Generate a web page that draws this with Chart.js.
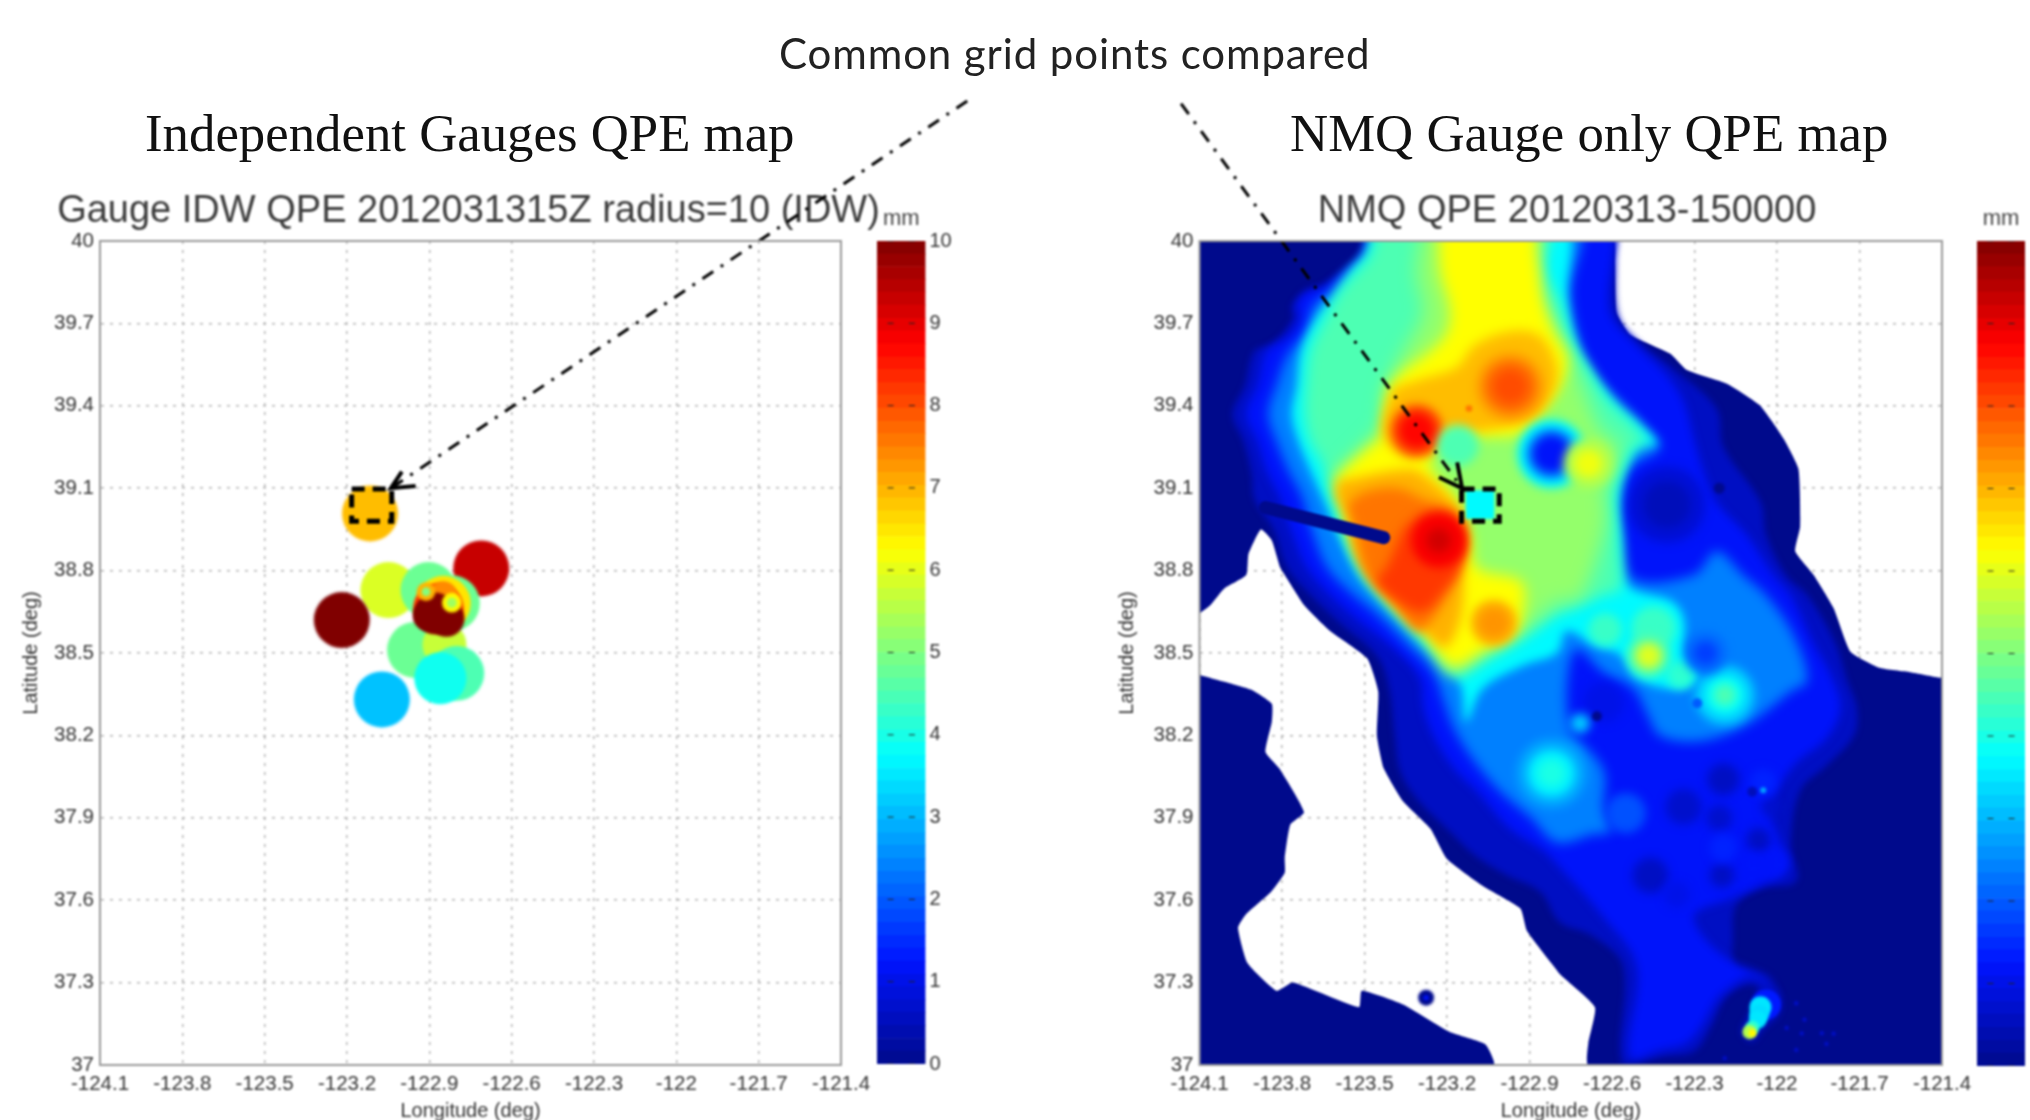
<!DOCTYPE html>
<html>
<head>
<meta charset="utf-8">
<title>QPE maps</title>
<script src="https://cdn.jsdelivr.net/npm/chart.js@4/dist/chart.umd.min.js"></script>
<style>
  html, body { margin: 0; padding: 0; background: #fff; overflow: hidden; }
  #page { position: relative; width: 2030px; height: 1120px; overflow: hidden; }
  .box { position: absolute; }
  .box canvas { filter: blur(0.8px); }
  .note { position: absolute; white-space: nowrap; filter: blur(0.6px); }
  .serif { font-family: "Liberation Serif", serif; color: #111; font-size: 52.8px; }
</style>
</head>
<body>
<div id="page">
  <div class="note" style="left:779px;top:28px;font:42px Lato,sans-serif;letter-spacing:.9px;color:#222">Common grid points compared</div>
  <div class="note serif" style="left:145px;top:103px">Independent Gauges QPE map</div>
  <div class="note serif" style="left:1290px;top:103px">NMQ Gauge only QPE map</div>
  <div class="box" style="left:865px;top:206px;width:100px;height:874px"><canvas id="bar-left"></canvas></div>
  <div class="box" style="left:1965px;top:206px;width:65px;height:874px"><canvas id="bar-right"></canvas></div>
  <div class="box" style="left:0;top:0;width:1015px;height:1123px"><canvas id="map-left"></canvas></div>
  <div class="box" style="left:1015px;top:0;width:1015px;height:1123px"><canvas id="map-right"></canvas></div>
</div>
<script>
const lonTicks = [-124.1, -123.8, -123.5, -123.2, -122.9, -122.6, -122.3, -122, -121.7, -121.4];
const latTicks = [37, 37.3, 37.6, 37.9, 38.2, 38.5, 38.8, 39.1, 39.4, 39.7, 40];
const barTicks = [0, 1, 2, 3, 4, 5, 6, 7, 8, 9, 10];
const barEdges = [0, .16, .31, .47, .63, .78, .94, 1.09, 1.25, 1.41, 1.56, 1.72, 1.88, 2.03, 2.19, 2.34, 2.5, 2.66, 2.81, 2.97, 3.13, 3.28, 3.44, 3.59, 3.75, 3.91, 4.06, 4.22, 4.38, 4.53, 4.69, 4.84, 5, 5.16, 5.31, 5.47, 5.63, 5.78, 5.94, 6.09, 6.25, 6.41, 6.56, 6.72, 6.88, 7.03, 7.19, 7.34, 7.5, 7.66, 7.81, 7.97, 8.13, 8.28, 8.44, 8.59, 8.75, 8.91, 9.06, 9.22, 9.38, 9.53, 9.69, 9.84, 10];

// left map, one row per gauge circle, drawn in this order (hot cluster last)
const gaugeLon = [-123.116, -122.711, -123.049, -123.219, -122.952, -122.845, -122.80, -122.86, -123.073, -122.903, -122.818, -122.849, -122.867, -122.849, -122.879, -122.838, -122.905, -122.912, -122.912, -122.818, -122.818];
const gaugeLat = [39.008, 38.808, 38.729, 38.62, 38.511, 38.53, 38.426, 38.408, 38.331, 38.729, 38.681, 38.681, 38.663, 38.711, 38.644, 38.625, 38.635, 38.723, 38.723, 38.683, 38.683];
const gaugeMm = [6.9, 9.3, 5.9, 10, 4.8, 5.7, 4.5, 3.9, 3.1, 4.8, 4.8, 6.5, 8.2, 7.4, 10, 10, 10, 7, 5, 6.3, 5.3];
const gaugeDeg = [.102, .102, .102, .102, .102, .08, .1, .095, .102, .102, .102, .1, .092, .05, .076, .066, .055, .034, .016, .036, .018];

// right map, coast outline of the gridded area
const coastNorth = [[-124.1, 40], [-122.595, 40], [-122.589, 39.92], [-122.583, 39.74], [-122.534, 39.66], [-122.389, 39.59], [-122.328, 39.53], [-122.182, 39.48], [-122.061, 39.40], [-121.976, 39.28], [-121.922, 39.17], [-121.916, 38.96], [-121.934, 38.87], [-121.867, 38.784], [-121.794, 38.663], [-121.733, 38.505], [-121.624, 38.445], [-121.515, 38.43], [-121.41, 38.41], [-121.4, 38.41], [-121.4, 37], [-122.686, 37], [-122.686, 37.08], [-122.662, 37.21], [-122.789, 37.33], [-122.82, 37.37], [-122.91, 37.49], [-122.933, 37.57], [-123.067, 37.65], [-123.2, 37.75], [-123.26, 37.86], [-123.36, 37.96], [-123.43, 38.08], [-123.455, 38.2], [-123.45, 38.36], [-123.49, 38.48], [-123.625, 38.58], [-123.72, 38.675], [-123.79, 38.784], [-123.806, 38.81], [-123.837, 38.91], [-123.877, 38.95], [-123.922, 38.86], [-123.93, 38.784], [-124.01, 38.735], [-124.06, 38.675], [-124.105, 38.64], [-124.1, 38.64]];
const coastSouth = [[-124.1, 38.42], [-124.01, 38.395], [-123.91, 38.365], [-123.837, 38.315], [-123.837, 38.25], [-123.86, 38.14], [-123.81, 38.08], [-123.72, 37.92], [-123.77, 37.875], [-123.79, 37.755], [-123.79, 37.70], [-123.84, 37.63], [-123.93, 37.55], [-123.96, 37.50], [-123.925, 37.37], [-123.82, 37.27], [-123.76, 37.30], [-123.52, 37.21], [-123.51, 37.27], [-123.36, 37.22], [-123.19, 37.12], [-123.06, 37.075], [-123.03, 37], [-124.1, 37]];
const stripLine = [[-123.86, 39.03], [-123.43, 38.92]];

// right map, filled contours, outer to inner
const band06 = [[-123.50, 40.06], [-123.50, 39.99], [-123.54, 39.925], [-123.65, 39.84], [-123.72, 39.81], [-123.765, 39.76], [-123.76, 39.72], [-123.83, 39.63], [-123.90, 39.60], [-123.935, 39.475], [-123.98, 39.37], [-123.94, 39.27], [-123.91, 39.15], [-123.90, 39.06], [-123.83, 38.95], [-123.78, 38.81], [-123.685, 38.70], [-123.59, 38.61], [-123.455, 38.49], [-123.41, 38.37], [-123.39, 38.20], [-123.37, 38.07], [-123.31, 37.97], [-123.20, 37.86], [-123.10, 37.765], [-122.98, 37.69], [-122.86, 37.63], [-122.79, 37.52], [-122.67, 37.47], [-122.56, 37.36], [-122.56, 37], [-122.415, 37.03], [-122.30, 37.05], [-122.24, 37.14], [-122.19, 37.24], [-122.12, 37.29], [-122.07, 37.285], [-122.10, 37.19], [-122.13, 37.12], [-122.09, 37.085], [-122.05, 37.13], [-121.99, 37.19], [-121.99, 37.26], [-122.05, 37.32], [-122.15, 37.35], [-122.16, 37.47], [-122.15, 37.58], [-122.07, 37.64], [-121.93, 37.67], [-121.95, 37.81], [-121.915, 38.0], [-121.82, 38.09], [-121.72, 38.20], [-121.71, 38.30], [-121.745, 38.40], [-121.79, 38.54], [-121.89, 38.71], [-121.965, 38.78], [-122.04, 38.93], [-122.06, 39.05], [-122.195, 39.25], [-122.22, 39.39], [-122.365, 39.525], [-122.535, 39.66], [-122.58, 39.74], [-122.59, 39.925], [-122.60, 40.06]];
const band13 = [[-123.485, 40.06], [-123.515, 39.94], [-123.60, 39.865], [-123.65, 39.83], [-123.71, 39.815], [-123.745, 39.77], [-123.735, 39.72], [-123.78, 39.65], [-123.855, 39.60], [-123.89, 39.475], [-123.93, 39.37], [-123.89, 39.27], [-123.855, 39.16], [-123.805, 39.06], [-123.76, 38.93], [-123.71, 38.81], [-123.625, 38.71], [-123.53, 38.625], [-123.395, 38.517], [-123.30, 38.41], [-123.285, 38.30], [-123.25, 38.20], [-123.175, 38.08], [-123.09, 37.995], [-122.97, 37.86], [-122.85, 37.78], [-122.79, 37.72], [-122.64, 37.55], [-122.51, 37.36], [-122.535, 37.03], [-122.425, 37.055], [-122.33, 37.08], [-122.27, 37.15], [-122.22, 37.24], [-122.17, 37.285], [-122.10, 37.32], [-122.01, 37.285], [-122.0, 37.225], [-122.025, 37.31], [-122.17, 37.38], [-122.27, 37.47], [-122.30, 37.55], [-122.16, 37.61], [-121.965, 37.72], [-122.0, 37.84], [-122.025, 37.935], [-121.94, 38.09], [-121.82, 38.19], [-121.77, 38.30], [-121.805, 38.42], [-121.87, 38.54], [-121.95, 38.71], [-122.01, 38.78], [-122.11, 38.93], [-122.22, 39.05], [-122.27, 39.17], [-122.30, 39.27], [-122.34, 39.415], [-122.40, 39.51], [-122.51, 39.62], [-122.607, 39.74], [-122.63, 40.06]];
const band24 = [[-123.48, 40.06], [-123.50, 39.95], [-123.565, 39.89], [-123.625, 39.815], [-123.685, 39.765], [-123.715, 39.67], [-123.78, 39.585], [-123.82, 39.475], [-123.85, 39.37], [-123.82, 39.27], [-123.775, 39.16], [-123.73, 39.075], [-123.685, 38.93], [-123.635, 38.81], [-123.55, 38.72], [-123.455, 38.64], [-123.345, 38.53], [-123.25, 38.43], [-123.21, 38.32], [-123.175, 38.225], [-123.10, 38.105], [-123.005, 37.995], [-122.895, 37.90], [-122.80, 37.81], [-122.668, 37.84], [-122.607, 37.85], [-122.63, 37.935], [-122.63, 38.07], [-122.716, 38.18], [-122.75, 38.21], [-122.765, 38.37], [-122.73, 38.515], [-122.63, 38.43], [-122.52, 38.37], [-122.47, 38.275], [-122.425, 38.20], [-122.28, 38.18], [-122.11, 38.24], [-121.95, 38.36], [-121.89, 38.40], [-121.94, 38.565], [-122.04, 38.71], [-122.12, 38.78], [-122.22, 38.87], [-122.30, 38.785], [-122.52, 38.77], [-122.56, 38.93], [-122.56, 39.05], [-122.535, 39.17], [-122.425, 39.25], [-122.485, 39.33], [-122.607, 39.45], [-122.68, 39.54], [-122.73, 39.68], [-122.75, 39.82], [-122.73, 40.06]];
const band37 = [[-123.47, 40.06], [-123.49, 39.96], [-123.54, 39.90], [-123.61, 39.80], [-123.68, 39.71], [-123.73, 39.60], [-123.745, 39.475], [-123.765, 39.37], [-123.74, 39.27], [-123.70, 39.17], [-123.65, 39.06], [-123.595, 38.93], [-123.54, 38.81], [-123.50, 38.75], [-123.405, 38.65], [-123.31, 38.55], [-123.21, 38.46], [-123.15, 38.38], [-123.13, 38.25], [-123.07, 38.37], [-122.92, 38.455], [-122.80, 38.50], [-122.765, 38.58], [-122.668, 38.53], [-122.57, 38.493], [-122.51, 38.41], [-122.365, 38.37], [-122.28, 38.42], [-122.33, 38.505], [-122.34, 38.63], [-122.38, 38.687], [-122.546, 38.75], [-122.57, 38.93], [-122.58, 39.05], [-122.56, 39.15], [-122.50, 39.25], [-122.437, 39.26], [-122.50, 39.33], [-122.58, 39.40], [-122.668, 39.51], [-122.73, 39.62], [-122.765, 39.78], [-122.78, 40.06]];
const band45 = [[-123.455, 40.06], [-123.48, 39.95], [-123.53, 39.89], [-123.59, 39.82], [-123.65, 39.71], [-123.70, 39.60], [-123.715, 39.475], [-123.72, 39.37], [-123.70, 39.27], [-123.66, 39.20], [-123.63, 39.12], [-123.60, 39.05], [-123.565, 38.93], [-123.50, 38.80], [-123.43, 38.71], [-123.335, 38.61], [-123.25, 38.515], [-123.175, 38.42], [-123.04, 38.48], [-122.92, 38.55], [-122.82, 38.63], [-122.75, 38.66], [-122.63, 38.71], [-122.57, 38.735], [-122.58, 38.93], [-122.595, 39.05], [-122.575, 39.15], [-122.52, 39.25], [-122.47, 39.26], [-122.53, 39.34], [-122.62, 39.43], [-122.69, 39.54], [-122.75, 39.63], [-122.79, 39.78], [-122.85, 39.90], [-122.83, 40.06]];
const band53 = [[-123.285, 40.06], [-123.31, 39.88], [-123.285, 39.74], [-123.345, 39.62], [-123.405, 39.51], [-123.43, 39.44], [-123.44, 39.33], [-123.49, 39.27], [-123.54, 39.22], [-123.61, 39.14], [-123.59, 39.05], [-123.54, 38.93], [-123.48, 38.80], [-123.405, 38.70], [-123.31, 38.60], [-123.24, 38.515], [-123.175, 38.43], [-123.07, 38.515], [-122.92, 38.60], [-122.87, 38.625], [-122.80, 38.686], [-122.716, 38.70], [-122.63, 38.93], [-122.62, 39.03], [-122.63, 39.08], [-122.58, 39.20], [-122.58, 39.27], [-122.64, 39.31], [-122.716, 39.49], [-122.75, 39.575], [-122.79, 39.66], [-122.86, 39.78], [-122.87, 39.925], [-122.90, 40.06]];
const band61 = [[-123.23, 40.06], [-123.225, 39.89], [-123.19, 39.755], [-123.20, 39.67], [-123.26, 39.60], [-123.36, 39.525], [-123.405, 39.475], [-123.42, 39.415], [-123.435, 39.295], [-123.50, 39.235], [-123.60, 39.135], [-123.59, 39.08], [-123.55, 38.93], [-123.48, 38.81], [-123.38, 38.675], [-123.285, 38.58], [-123.225, 38.49], [-123.175, 38.45], [-123.07, 38.505], [-122.945, 38.58], [-122.92, 38.66], [-122.93, 38.76], [-123.09, 38.81], [-123.115, 38.93], [-123.15, 39.0], [-123.17, 39.07], [-123.26, 39.18], [-123.20, 39.30], [-123.10, 39.29], [-122.92, 39.30], [-122.85, 39.39], [-122.80, 39.45], [-122.76, 39.57], [-122.81, 39.67], [-122.85, 39.79], [-122.87, 39.925], [-122.90, 40.06]];
const band69 = [[-123.395, 39.465], [-123.285, 39.50], [-123.165, 39.54], [-123.10, 39.62], [-122.98, 39.67], [-122.87, 39.66], [-122.81, 39.575], [-122.80, 39.49], [-122.85, 39.39], [-122.92, 39.34], [-123.10, 39.305], [-123.21, 39.305], [-123.26, 39.23], [-123.345, 39.21], [-123.42, 39.27], [-123.435, 39.34]];
const band70 = [[-123.60, 39.125], [-123.335, 39.17], [-123.26, 39.13], [-123.175, 39.05], [-123.13, 38.975], [-123.14, 38.81], [-123.14, 38.69], [-123.165, 38.58], [-123.21, 38.52], [-123.285, 38.58], [-123.38, 38.66], [-123.48, 38.77], [-123.54, 38.87], [-123.565, 39.01], [-123.60, 39.06]];
const band76 = [[-123.565, 39.04], [-123.50, 39.085], [-123.38, 39.10], [-123.285, 39.06], [-123.175, 39.01], [-123.135, 38.89], [-123.165, 38.81], [-123.19, 38.735], [-123.26, 38.615], [-123.31, 38.58], [-123.405, 38.70], [-123.49, 38.784], [-123.53, 38.93]];
const band82 = [[-123.36, 38.95], [-123.285, 39.01], [-123.19, 39.01], [-123.135, 38.93], [-123.155, 38.80], [-123.21, 38.725], [-123.285, 38.65], [-123.36, 38.675], [-123.455, 38.76], [-123.42, 38.81]];
const bandList = [band06, band13, band24, band37, band45, band53, band61, band69, band70, band76, band82];
const bandMm = [0.6, 1.2, 2.4, 3.7, 4.5, 5.2, 6.25, 6.9, 7.0, 7.6, 8.2];
const bandSoft = [3, 4, 6, 5, 7, 9, 7, 6, 6, 6, 6];

// right map, broad highs and lows on top of the contours
const blobLon = [-123.31, -123.31, -122.97, -122.97, -122.97, -123.16, -122.82, -122.82, -122.82, -122.686, -122.686, -122.40, -122.40, -123.03, -123.03, -123.23, -123.23, -122.449, -122.625, -122.35, -122.467, -122.467, -122.467, -122.19, -122.19, -122.19, -122.26, -122.26, -122.63, -122.716, -122.82, -122.82, -122.82, -122.55, -122.34, -122.195, -122.21, -122.025, -122.067, -122.46, -122.2, -122.05, -122.195, -122.01, -122.09, -122.365];
const blobLat = [39.31, 39.31, 39.47, 39.47, 39.47, 39.255, 39.225, 39.225, 39.225, 39.19, 39.19, 39.04, 39.04, 38.61, 38.61, 38.91, 38.91, 38.59, 38.585, 38.42, 38.49, 38.49, 38.49, 38.347, 38.347, 38.347, 38.50, 38.50, 38.32, 38.244, 38.062, 38.062, 38.062, 37.917, 37.94, 38.04, 37.90, 37.94, 37.82, 37.69, 37.69, 38.03, 37.79, 37.73, 37.73, 37.62];
const blobMm = [8.0, 8.7, 7.2, 7.7, 8.0, 4.5, 3.7, 2.6, 1.2, 5.5, 6.1, .8, .5, 7, 7.3, 8.8, 9.2, 4.3, 4.3, 4.2, 4.5, 5.5, 6, 3.2, 3.8, 4.5, 2.2, 1.7, 1, 3.2, 2.8, 3.6, 4, 1.9, .7, .6, .7, .7, .6, .6, .6, 1.4, 1.4, 1.2, 1.2, 1];
const blobDeg = [.095, .065, .125, .095, .06, .075, .125, .095, .07, .09, .05, .14, .085, .085, .055, .1, .045, .08, .06, .05, .08, .05, .032, .11, .073, .04, .08, .044, .073, .036, .127, .087, .05, .073, .065, .058, .047, .033, .044, .065, .044, .047, .05, .047, .04, .047];

// right map, small sharp marks: single grid cells, the south bay tail, the island
const dotLon = [-123.12, -122.21, -122.655, -122.29, -122.09, -122.05, -122.04, -122.06, -122.065, -122.07, -122.09, -122.10, -122.09, -121.93, -121.90, -121.965, -121.91, -121.837, -121.794, -121.82, -121.93, -122.19, -123.276, -123.276];
const dotLat = [39.39, 39.10, 38.27, 38.317, 37.995, 38.0, 37.22, 37.21, 37.185, 37.165, 37.135, 37.12, 37.116, 37.225, 37.165, 37.135, 37.115, 37.116, 37.114, 37.077, 37.055, 37.025, 37.245, 37.245];
const dotMm = [7.6, 0, 0, 2, .5, 2.8, 1.3, 3.5, 3.4, 3.5, 4.2, 5.5, 6.3, .9, .9, .9, .9, .9, .9, .9, .9, .9, 0, 1.2];
const dotDeg = [.012, .02, .018, .018, .018, .011, .055, .04, .036, .032, .026, .026, .014, .007, .007, .007, .007, .007, .007, .007, .007, .007, .029, .01];

// cyan gauge cell inside the dashed box
const cellLon = [-123.08];
const cellLat = [39.04];
const cellMm = [3.7];
const cellDeg = [.073];

// annotation lines in map coordinates
const leftArrow = [[-120.94, 40.51], [-123.04, 39.10]];
const leftHead = [[-123.0, 39.16], [-123.04, 39.10], [-122.95, 39.108]];
const leftBox = [[-123.183, 39.097], [-123.037, 39.097], [-123.037, 38.98], [-123.183, 38.98], [-123.183, 39.097]];
const rightArrow = [[-124.167, 40.50], [-123.145, 39.10]];
const rightHead = [[-123.163, 39.194], [-123.145, 39.10], [-123.229, 39.14]];
const rightBox = [[-123.147, 39.097], [-123.01, 39.097], [-123.01, 38.98], [-123.147, 38.98], [-123.147, 39.097]];

const jetPos = [0, .125, .375, .625, .875, 1];
const jetRgb = [[0, 10, 140], [0, 20, 255], [0, 255, 255], [255, 255, 0], [255, 0, 0], [128, 0, 0]];

function jet(mm) {
    let t = Math.min(1, Math.max(0, mm / 10));
    let i = 0;
    while (i < jetPos.length - 2 && t > jetPos[i + 1]) i++;
    let f = (t - jetPos[i]) / (jetPos[i + 1] - jetPos[i]);
    let c = jetRgb[i].map((v, k) => Math.round(v + (jetRgb[i + 1][k] - v) * f));
    return `rgb(${c[0]},${c[1]},${c[2]})`;
}

function toPoints(pairs) {
    return pairs.map(p => ({x: p[0], y: p[1]}));
}

function degToPx(chart, deg) {
    let s = chart.scales.x;
    return deg * s.width / (s.max - s.min);
}

function area(pairs, color, blur, tension) {
    return {
        data: toPoints(pairs.concat([pairs[0]])),
        showLine: true, fill: 'shape', backgroundColor: color,
        borderWidth: 0, pointRadius: 0, tension: tension, blur: blur
    };
}

function spots(lons, lats, mms, degs, blur, style) {
    return {
        data: lons.map((x, i) => ({x: x, y: lats[i]})),
        showLine: false, pointStyle: style || 'circle',
        pointBackgroundColor: mms.map(jet), pointBorderWidth: 0,
        pointRadius: c => degToPx(c.chart, degs[c.dataIndex]),
        blur: blur
    };
}

function stroke(pairs, width, dash) {
    return {
        data: toPoints(pairs), showLine: true, fill: false, clip: false,
        borderColor: '#000', borderWidth: width, borderDash: dash || [],
        pointRadius: 0, tension: 0
    };
}

// filler runs its hook before ours, so the filter for a dataset is set when the previous one ends
const softBands = {
    id: 'softBands',
    setFilter(chart, meta) {
        let blur = meta ? chart.data.datasets[meta.index].blur : 0;
        chart.ctx.filter = blur ? `blur(${blur}px)` : 'none';
    },
    beforeDatasetsDraw(chart) {
        let metas = chart.getSortedVisibleDatasetMetas();
        this.setFilter(chart, metas[metas.length - 1]);
    },
    afterDatasetDraw(chart, args) {
        let metas = chart.getSortedVisibleDatasetMetas();
        let pos = metas.findIndex(m => m.index === args.index);
        this.setFilter(chart, metas[pos - 1]);
    },
    afterDatasetsDraw(chart) {
        chart.ctx.filter = 'none';
    }
};

const frame = {
    id: 'frame',
    afterDatasetsDraw(chart) {
        let a = chart.chartArea, ctx = chart.ctx;
        ctx.save();
        ctx.strokeStyle = '#999';
        ctx.lineWidth = 2;
        ctx.strokeRect(a.left, a.top, a.right - a.left, a.bottom - a.top);
        ctx.restore();
    }
};

function makeMap(id, title, sets, pad, axisWidth) {
    sets.forEach((d, i) => { d.type = 'scatter'; d.order = sets.length - i; });
    new Chart(document.getElementById(id), {
        type: 'scatter',
        data: {datasets: sets},
        plugins: [softBands, frame],
        options: {
            responsive: true, maintainAspectRatio: false, animation: false,
            layout: {padding: pad},
            plugins: {
                legend: {display: false}, tooltip: {enabled: false},
                filler: {drawTime: 'beforeDatasetDraw'},
                title: {
                    display: true, text: title, color: '#3c3c3c',
                    font: {family: 'Liberation Sans', size: 38, weight: 'normal'},
                    padding: {top: 188.4, bottom: 7}
                }
            },
            scales: {
                x: {
                    type: 'linear', min: -124.1, max: -121.4,
                    afterBuildTicks: s => { s.ticks = lonTicks.map(v => ({value: v})); },
                    afterFit: s => { s.height = 58; },
                    ticks: {color: '#333', font: {family: 'Liberation Sans', size: 20.5}, padding: 7, maxRotation: 0, autoSkip: false, callback: v => String(v)},
                    grid: {color: '#b4b4b4', lineWidth: 1.5, drawTicks: false},
                    border: {dash: [3, 6], color: '#999'},
                    title: {display: true, text: 'Longitude (deg)', color: '#333', font: {family: 'Liberation Sans', size: 20}, padding: {top: 0, bottom: 0}}
                },
                y: {
                    type: 'linear', min: 37, max: 40,
                    afterBuildTicks: s => { s.ticks = latTicks.map(v => ({value: v})); },
                    afterFit: s => { s.width = axisWidth; },
                    ticks: {color: '#333', font: {family: 'Liberation Sans', size: 20.5}, padding: 6, autoSkip: false, callback: v => String(v)},
                    grid: {color: '#b4b4b4', lineWidth: 1.5, drawTicks: false},
                    border: {dash: [3, 6], color: '#999'},
                    title: {display: true, text: 'Latitude (deg)', color: '#333', font: {family: 'Liberation Sans', size: 20}, padding: {top: 0, bottom: 0}}
                },
                // empty axis, only there so the full width title centres over the plot
                spare: {
                    type: 'linear', position: 'right',
                    afterFit: s => { s.width = 77; },
                    ticks: {display: false}, grid: {display: false}, border: {display: false}
                }
            }
        }
    });
}

function makeBar(id, showLabels, axisWidth) {
    let bands = barEdges.slice(0, -1).map((lo, i) => ({
        type: 'bar', data: [[lo, barEdges[i + 1]]],
        backgroundColor: jet((lo + barEdges[i + 1]) / 2),
        barPercentage: 1, categoryPercentage: 1, grouped: false, order: 2
    }));
    let marks = [0.06, 0.94].map(x => ({
        type: 'scatter', xAxisID: 'marks', order: 1,
        data: barTicks.map(v => ({x: x, y: v})),
        pointStyle: 'line', pointRadius: 3, pointBorderColor: '#222', pointBorderWidth: 1
    }));
    new Chart(document.getElementById(id), {
        type: 'bar',
        data: {labels: ['mm'], datasets: bands.concat(marks)},
        options: {
            responsive: true, maintainAspectRatio: false, animation: false,
            layout: {padding: {left: 12, bottom: 14}},
            plugins: {
                legend: {display: false}, tooltip: {enabled: false},
                title: {
                    display: true, text: 'mm', color: '#444', fullSize: false,
                    font: {family: 'Liberation Sans', size: 22, weight: 'normal'},
                    padding: {top: 0, bottom: 8.6}
                }
            },
            scales: {
                x: {display: false},
                marks: {type: 'linear', display: false, min: 0, max: 1},
                y: {
                    type: 'linear', min: 0, max: 10, position: 'right',
                    afterBuildTicks: s => { s.ticks = barTicks.map(v => ({value: v})); },
                    afterFit: s => { s.width = axisWidth; },
                    grid: {display: false, drawTicks: false}, border: {display: false},
                    ticks: {display: showLabels, color: '#333', font: {family: 'Liberation Sans', size: 20}, padding: 4, autoSkip: false}
                }
            }
        }
    });
}

makeBar('bar-left', true, 39.5);
makeBar('bar-right', false, 5);

makeMap('map-left', 'Gauge IDW QPE 2012031315Z radius=10 (IDW)', [
    spots(gaugeLon, gaugeLat, gaugeMm, gaugeDeg, 1.2),
    stroke(leftArrow, 3, [13, 9, 3, 9]),
    stroke(leftHead, 4),
    stroke(leftBox, 5, [13, 8])
], {left: 19, right: 97}, 81);

let rightSets = [
    area(coastNorth, jet(0), 0, 0.15),
    area(coastSouth, jet(0), 0, 0.15)
];
bandList.forEach((b, i) => {
    rightSets.push(area(b, jet(bandMm[i]), bandSoft[i], 0.35));
});
rightSets.push(spots(blobLon, blobLat, blobMm, blobDeg, 5));
rightSets.push(spots(dotLon, dotLat, dotMm, dotDeg, 1.2));
rightSets.push({
    data: toPoints(stripLine), showLine: true, fill: false, borderColor: jet(0),
    borderWidth: 13, borderCapStyle: 'round', pointRadius: 0
});
rightSets.push(spots(cellLon, cellLat, cellMm, cellDeg, 1, 'rect'));
rightSets.push(stroke(rightArrow, 3, [13, 9, 3, 9]));
rightSets.push(stroke(rightHead, 4));
rightSets.push(stroke(rightBox, 5, [13, 8]));

makeMap('map-right', 'NMQ QPE 20120313-150000', rightSets, {left: 100, right: 11}, 84.5);
</script>
</body>
</html>
